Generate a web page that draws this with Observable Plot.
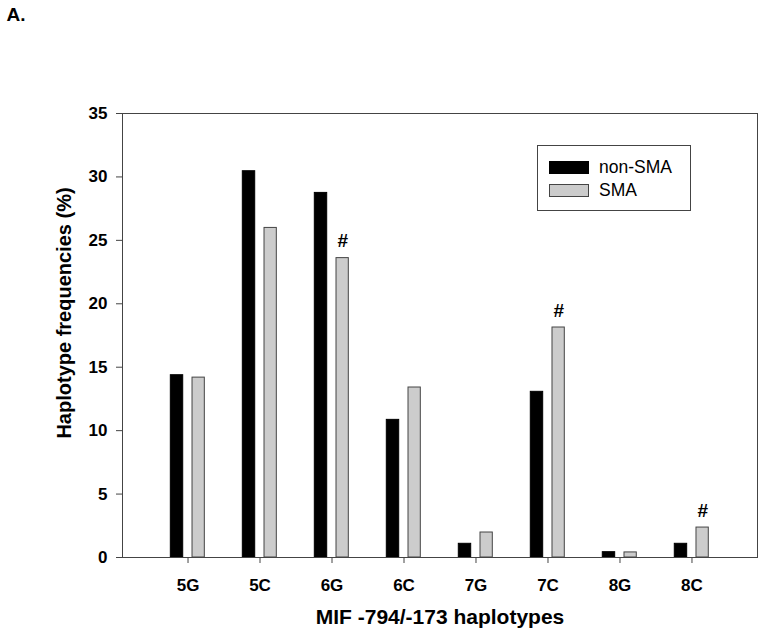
<!DOCTYPE html>
<html><head><meta charset="utf-8">
<script src="https://cdn.jsdelivr.net/npm/d3@7"></script>
<script src="https://cdn.jsdelivr.net/npm/@observablehq/plot@0.6"></script>
<style>
body{margin:0;background:#fff;}
#wrap{position:relative;width:762px;height:640px;font-family:"Liberation Sans",Arial,sans-serif;color:#000;}
#wrap svg{position:absolute;left:0;top:0;}
#wrap svg g[aria-label^="y-axis"] text, #wrap svg g[aria-label^="x-axis"] text{font-size:17px;font-weight:bold;}
.abs{position:absolute;line-height:1;white-space:nowrap;}
#panel{left:6.5px;top:4.5px;font-size:19px;font-weight:bold;}
#ytitle{left:64px;top:313px;font-size:20px;font-weight:bold;transform:translate(-50%,-50%) rotate(-90deg);}
#legend{left:537px;top:145px;width:152px;height:64px;border:1px solid #444;background:#fff;}
.sw{position:absolute;box-sizing:border-box;width:40px;height:13px;}
.lt{position:absolute;font-size:17.5px;line-height:1;}
</style></head><body><div id="wrap"></div>
<script>
const haplotypes = ["5G","5C","6G","6C","7G","7C","8G","8C"];
const nonSMA = [14.37,30.45,28.74,10.85,1.08,13.06,0.42,1.08];
const SMA    = [14.18,25.98,23.60,13.40,1.97,18.13,0.40,2.36];
const significantSMA = ["6G","7C","8C"];
const yTicks = [0,5,10,15,20,25,30,35];
const seriesNames = ["non-SMA","SMA"];
const seriesFill = ["#000000","#cccccc"];
const seriesStroke = ["#000000","#444444"];

const rowsNon = haplotypes.map((h,i)=>({h, v:nonSMA[i]}));
const rowsSMA = haplotypes.map((h,i)=>({h, v:SMA[i]}));
const rowsSig = rowsSMA.filter(d=>significantSMA.includes(d.h));

const plot = Plot.plot({
  width:762, height:640,
  marginTop:113, marginBottom:83, marginLeft:122, marginRight:5,
  style:{fontFamily:"'Liberation Sans', Arial, sans-serif", background:"transparent", color:"#000", overflow:"visible"},
  x:{domain:haplotypes, type:"band", paddingInner:0, paddingOuter:0.41, round:false, label:null},
  y:{domain:[0,35], label:null},
  marks:[
    Plot.barY(rowsNon, {x:"h", y:"v", fill:seriesFill[0], stroke:seriesStroke[0], strokeWidth:1, insetLeft:18.8, insetRight:40.8}),
    Plot.barY(rowsSMA, {x:"h", y:"v", fill:seriesFill[1], stroke:seriesStroke[1], strokeWidth:1, insetLeft:40.5, insetRight:19.2}),
    Plot.text(rowsSig, {x:"h", y:"v", text:()=>"#", dx:10.7, dy:-11, lineAnchor:"bottom", fontSize:19, fontWeight:"bold", fill:"#000"}),
    Plot.axisY({ticks:yTicks, tickSize:6, tickPadding:9, fontSize:17, fontWeight:"bold", stroke:"#444", label:null}),
    Plot.axisX({tickSize:6, tickPadding:15, fontSize:17, fontWeight:"bold", stroke:"#444", label:null}),
    Plot.frame({stroke:"#444", strokeWidth:1}),
    Plot.text(["MIF -794/-173 haplotypes"], {frameAnchor:"bottom", dy:66, fontSize:21, fontWeight:"bold", fill:"#000"})
  ]
});
const wrap = document.getElementById("wrap");
wrap.appendChild(plot);

function addDiv(id, cls, text){
  const d = document.createElement("div");
  if (id) d.id = id;
  d.className = cls;
  if (text!=null) d.textContent = text;
  return d;
}
wrap.appendChild(addDiv("panel","abs","A."));
wrap.appendChild(addDiv("ytitle","abs","Haplotype frequencies (%)"));
const leg = addDiv("legend","abs",null);
seriesNames.forEach((name,i)=>{
  const sw = addDiv(null,"sw",null);
  sw.style.left = "11px";
  sw.style.top = (15 + i*23) + "px";
  sw.style.background = seriesFill[i];
  sw.style.border = "1px solid " + seriesStroke[i];
  leg.appendChild(sw);
  const t = addDiv(null,"lt",name);
  t.style.left = "61px";
  t.style.top = (13 + i*23) + "px";
  leg.appendChild(t);
});
wrap.appendChild(leg);
</script>
</body></html>
